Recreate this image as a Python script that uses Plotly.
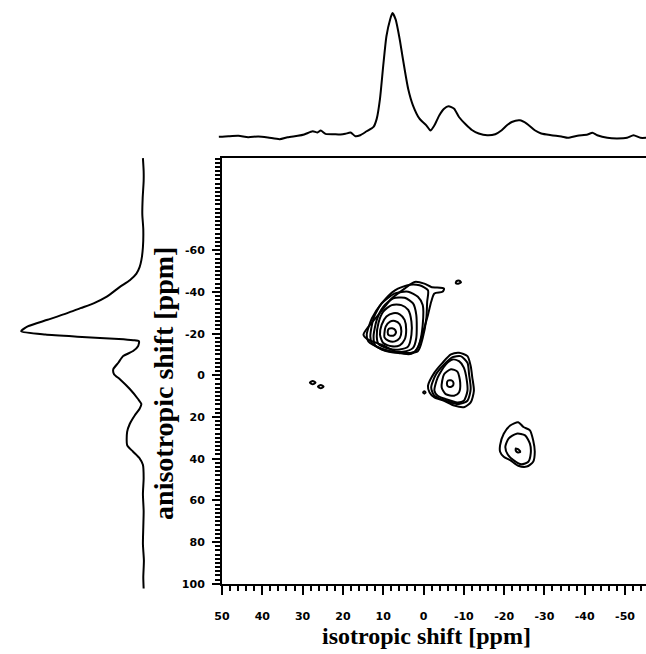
import plotly.graph_objects as go

# ---------------- data (ppm / relative intensity) ----------------
# top projection (isotropic dimension)
top_ppm = [50.8, 48.4, 45.9, 43.5, 41.0, 38.6, 35.7, 33.7, 31.2, 29.6, 27.5, 26.3, 25.5, 24.3,
           22.2, 20.6, 19.4, 18.1, 16.9, 15.7, 14.1, 12.4, 11.6, 10.8, 10.0, 9.2, 8.3, 7.7,
           6.9, 5.9, 5.1, 3.8, 2.6, 1.0, -0.7, -1.7, -2.7, -3.9, -5.1, -6.2, -7.6, -8.8,
           -10.5, -12.1, -13.7, -15.8, -17.8, -19.4, -20.7, -21.9, -23.9, -25.6, -27.6, -29.2,
           -31.7, -34.2, -35.8, -38.2, -40.7, -41.9, -43.1, -45.6, -48.0, -50.5, -52.1, -53.8, -55.2]
top_int = [0.0, 0.5, 0.8, -0.3, 0.3, -0.5, -1.9, -0.3, 0.8, 1.9, 4.5, 3.5, 5.1, 2.4,
           2.1, 1.9, 2.4, 3.5, 0.5, 1.3, 4.5, 8.0, 14.7, 30.7, 57.3, 81.3, 94.7, 100.0,
           94.7, 78.7, 62.7, 38.7, 25.3, 14.7, 9.3, 5.1, 9.3, 17.3, 22.7, 24.8, 22.7, 16.0,
           9.9, 5.3, 2.7, 1.3, 2.1, 5.3, 9.3, 12.0, 13.3, 10.7, 5.3, 2.7,
           1.3, 0.3, -0.8, 0.8, 1.9, 3.2, 1.3, -0.8, -1.3, -0.8, 1.3, -0.8, -0.8]

# left projection (anisotropic dimension)
left_ppm = [-104.2, -98.0, -93.1, -85.0, -77.3, -70.0, -61.4, -55.1, -51.9, -48.8, -45.6, -42.4,
            -37.7, -34.5, -32.2, -29.8, -26.6, -23.4, -21.1, -19.5, -18.4, -17.4, -16.8, -16.3,
            -13.9, -11.6, -9.2, -6.0, -2.9, -0.5, 1.9, 6.6, 11.4, 13.8, 16.1, 19.3, 23.3, 27.2,
            33.5, 36.7, 39.9, 43.0, 49.4, 57.0, 65.2, 73.0, 81.0, 89.0, 96.9, 102.4]
left_int = [0.3, -0.3, -0.3, 0.5, 0.8, 0.0, 0.3, 1.6, 3.0, 5.6, 11.0, 19.1,
            29.8, 40.6, 51.3, 62.1, 78.2, 94.4, 99.7, 80.0, 50.0, 20.0, 8.3, 3.5,
            4.3, 8.3, 16.4, 20.4, 24.5, 23.9, 19.1, 11.0, 4.3, 1.6, 3.0, 7.0, 11.0, 13.2,
            13.2, 8.3, 3.0, 0.3, -0.3, 0.3, -0.3, 0.0, 0.3, -0.5, 0.0, -0.3]

# contour levels of the main peak (iso ~8 ppm, aniso ~-21 ppm)
a1_x = [8.9, 8.6, 7.8, 7.0, 6.9, 7.5, 8.6]
a1_y = [-20.7, -22.3, -22.6, -21.7, -20.1, -19.0, -19.2]
a2_x = [9.7, 9.4, 8.3, 7.1, 5.9, 5.5, 5.9, 7.1, 8.7, 9.7]
a2_y = [-20.3, -23.4, -25.8, -26.1, -24.5, -21.1, -17.9, -16.3, -16.6, -18.2]
a3_x = [10.8, 10.4, 9.2, 7.5, 5.9, 4.7, 4.3, 4.7, 5.9, 7.9, 10.0]
a3_y = [-19.5, -24.2, -28.2, -29.8, -29.3, -26.6, -21.9, -17.1, -14.4, -13.9, -15.5]
a4_x = [11.6, 11.2, 10.0, 7.9, 5.5, 3.8, 3.0, 3.0, 3.8, 5.9, 8.8, 11.2]
a4_y = [-18.7, -25.0, -30.6, -33.7, -33.7, -31.4, -25.8, -19.5, -13.9, -12.4, -12.8, -15.1]
a5_x = [12.4, 11.6, 10.0, 7.5, 4.7, 2.6, 1.8, 1.8, 2.6, 5.1, 8.8, 12.0]
a5_y = [-18.7, -26.6, -32.9, -36.9, -37.2, -34.5, -29.0, -17.9, -13.2, -11.3, -11.6, -14.4]
a6_x = [13.2, 12.4, 10.4, 7.1, 3.8, 1.4, 0.2, 0.2, 1.0, 2.2, 6.3, 10.4, 12.8]
a6_y = [-18.7, -27.4, -34.5, -39.3, -40.1, -37.7, -33.7, -24.2, -15.5, -11.3, -10.8, -12.4, -15.5]
a7_x = [14.1, 12.8, 10.4, 7.1, 3.4, 1.0, -1.1, -0.9, -0.7, 0.2, 1.4, 5.5, 10.4, 13.7]
a7_y = [-19.5, -27.4, -34.5, -40.8, -43.5, -43.2, -40.8, -35.3, -27.4, -17.9, -11.6, -10.6, -12.8, -16.3]
a8_x = [14.9, 11.2, 7.9, 4.7, 2.2, -0.2, -1.9, -5.1, -4.7, -2.7, -1.9, -1.1, 0.2, 1.4, 3.0, 6.3, 10.4, 13.7]
a8_y = [-19.5, -29.0, -36.9, -41.6, -44.8, -44.0, -42.4, -41.6, -40.1, -39.3, -35.3, -29.0, -20.3, -13.2, -10.3, -11.0, -14.7, -17.1]
a9_x = [-8.0, -8.6, -9.3, -8.9, -8.2]
a9_y = [-44.3, -44.0, -44.6, -45.4, -45.2]

# second peak (iso ~-6.5 ppm, aniso ~4 ppm)
b1_x = [-5.8, -6.1, -6.8, -7.3, -7.4, -6.9, -6.1]
b1_y = [3.9, 2.5, 2.4, 3.0, 4.6, 5.5, 5.4]
b2_x = [-4.5, -5.1, -6.8, -8.4, -9.1, -8.8, -7.6, -5.5]
b2_y = [5.8, -0.5, -2.9, -1.8, 3.5, 8.2, 9.8, 9.0]
b3_x = [-2.7, -3.5, -5.5, -7.2, -8.8, -10.0, -10.7, -10.9, -10.0, -8.4, -5.5, -3.5]
b3_y = [7.4, 1.1, -5.2, -7.6, -6.8, -3.7, 1.9, 7.4, 12.2, 13.0, 11.4, 9.8]
b4_x = [-1.9, -3.1, -5.1, -7.2, -9.2, -10.9, -11.3, -11.7, -10.9, -8.8, -5.5, -2.7]
b4_y = [5.8, -0.5, -5.2, -8.7, -9.2, -6.0, -0.5, 6.6, 12.2, 13.8, 12.2, 9.8]
b5_x = [-1.1, -2.7, -4.7, -6.8, -8.8, -10.9, -11.7, -12.1, -12.5, -11.7, -10.0, -7.6, -5.1, -2.7, -1.5]
b5_y = [5.1, -1.3, -6.0, -10.0, -10.8, -9.2, -4.5, 1.1, 7.4, 13.0, 15.3, 14.5, 12.2, 10.6, 8.2]
b6_x = [0.1, -0.2, -0.5, -0.2]
b6_y = [8.2, 7.6, 8.2, 8.8]

# third peak (iso ~-24 ppm, aniso ~35 ppm)
c1_x = [-22.9, -23.7, -24.0, -23.4, -22.9]
c1_y = [35.1, 35.8, 36.7, 37.0, 36.2]
c2_x = [-20.3, -21.1, -23.1, -25.2, -26.4, -26.6, -26.0, -24.3, -22.3, -20.9]
c2_y = [34.3, 30.4, 28.0, 28.8, 32.8, 37.5, 41.5, 42.7, 40.7, 38.0]
c3_x = [-19.0, -19.9, -21.5, -23.5, -24.8, -26.4, -27.2, -27.6, -27.2, -25.6, -23.5, -21.5, -19.9, -19.0]
c3_y = [33.5, 28.0, 24.1, 22.5, 24.8, 26.4, 31.2, 36.7, 41.5, 43.8, 43.4, 40.7, 39.1, 36.7]

# small feature at iso ~26 ppm
d1_x = [28.2, 27.5, 26.8, 27.5]
d1_y = [3.5, 2.7, 3.5, 4.3]
d2_x = [26.2, 25.5, 24.8, 25.5]
d2_y = [5.4, 4.6, 5.4, 6.2]

contours = [(a1_x, a1_y), (a2_x, a2_y), (a3_x, a3_y), (a4_x, a4_y), (a5_x, a5_y),
            (a6_x, a6_y), (a7_x, a7_y), (a8_x, a8_y), (a9_x, a9_y),
            (b1_x, b1_y), (b2_x, b2_y), (b3_x, b3_y), (b4_x, b4_y), (b5_x, b5_y), (b6_x, b6_y),
            (c1_x, c1_y), (c2_x, c2_y), (c3_x, c3_y), (d1_x, d1_y), (d2_x, d2_y)]

x_ticks = [50, 40, 30, 20, 10, 0, -10, -20, -30, -40, -50]
y_ticks = [-60, -40, -20, 0, 20, 40, 60, 80, 100]

# ---------------- figure ----------------
W, H = 646, 654
fig = go.Figure()

for xs, ys in contours:
    fig.add_trace(go.Scatter(x=xs + [xs[0]], y=ys + [ys[0]], mode="lines",
                             line=dict(color="black", width=2, shape="spline", smoothing=0.7),
                             xaxis="x", yaxis="y", hoverinfo="skip"))

fig.add_trace(go.Scatter(x=top_ppm, y=top_int, mode="lines",
                         line=dict(color="black", width=2, shape="spline", smoothing=0.6),
                         xaxis="x2", yaxis="y2", hoverinfo="skip"))
fig.add_trace(go.Scatter(x=left_int, y=left_ppm, mode="lines",
                         line=dict(color="black", width=2, shape="spline", smoothing=0.6),
                         xaxis="x3", yaxis="y3", hoverinfo="skip"))

tickfont = dict(family="DejaVu Sans", size=11, color="black", weight="bold")
xtitlefont = dict(family="Liberation Serif", size=24, color="black", weight="bold")
ytitlefont = dict(family="Liberation Serif", size=28, color="black", weight="bold")

x0 = 216.7 / W
fig.update_layout(
    width=W, height=H, margin=dict(l=0, r=0, t=0, b=0),
    plot_bgcolor="white", paper_bgcolor="white", showlegend=False,
    xaxis=dict(domain=[x0, 1.0], range=[50, -55.2], anchor="y",
               showline=True, linecolor="black", linewidth=2, mirror=True,
               ticks="outside", ticklen=9, tickwidth=2, tickcolor="black",
               tickmode="array", tickvals=x_ticks, ticktext=[str(v) for v in x_ticks],
               tickfont=tickfont, ticklabelstandoff=12,
               minor=dict(tickmode="linear", tick0=0, dtick=2, ticks="outside",
                          ticklen=5, tickwidth=1.5, tickcolor="black"),
               showgrid=False, zeroline=False),
    yaxis=dict(domain=[(H - 590) / H, (H - 160) / H], range=[100, -104.16], anchor="x",
               showline=True, linecolor="black", linewidth=2, mirror=False,
               ticks="outside", ticklen=8, tickwidth=2, tickcolor="black",
               tickmode="array", tickvals=y_ticks, ticktext=[str(v) for v in y_ticks],
               tickfont=tickfont, ticklabelstandoff=5,
               minor=dict(tickmode="linear", tick0=0, dtick=2, ticks="outside",
                          ticklen=5, tickwidth=1.5, tickcolor="black"),
               showgrid=False, zeroline=False),
    xaxis2=dict(domain=[213 / W, 1.0], range=[50.9, -55.2], anchor="y2", visible=False),
    yaxis2=dict(domain=[(H - 150) / H, (H - 5) / H], range=[-9.36, 106.6], anchor="x2", visible=False),
    xaxis3=dict(domain=[0, 150 / W], range=[110.5, -10.5], anchor="y3", visible=False),
    yaxis3=dict(domain=[(H - 600) / H, (H - 155) / H], range=[104.8, -106.5], anchor="x3", visible=False),
    annotations=[
        dict(text="isotropic shift [ppm]", x=424 / W, y=(H - 643) / H, xref="paper", yref="paper",
             showarrow=False, font=xtitlefont, xanchor="center", yanchor="middle"),
        dict(text="anisotropic shift [ppm]", x=158 / W, y=(H - 388) / H, xref="paper", yref="paper",
             showarrow=False, font=ytitlefont, textangle=-90, xanchor="center", yanchor="middle"),
    ],
)

fig.write_html("out.html", config={"displayModeBar": False},
               post_script="document.body.style.margin='0';document.body.style.overflow='hidden';")
